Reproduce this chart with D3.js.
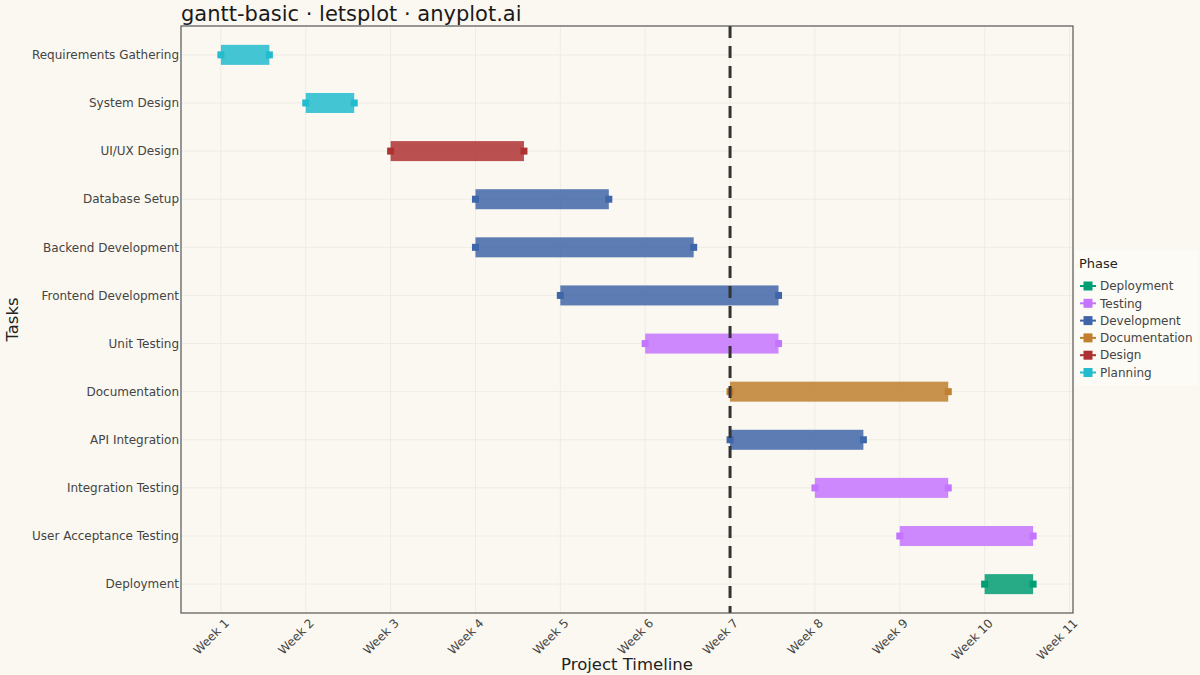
<!DOCTYPE html>
<html>
<head>
<meta charset="utf-8">
<script src="https://cdn.jsdelivr.net/npm/d3@7"></script>
<style>
  body { margin: 0; background: #FAF8F1; }
  text { font-family: "DejaVu Sans", sans-serif; }
</style>
</head>
<body>
<div id="chart"></div>
<script>
// Chart data
var tasks = ["Requirements Gathering", "System Design", "UI/UX Design", "Database Setup",
  "Backend Development", "Frontend Development", "Unit Testing", "Documentation",
  "API Integration", "Integration Testing", "User Acceptance Testing", "Deployment"];
var phases = ["Planning", "Planning", "Design", "Development", "Development", "Development",
  "Testing", "Documentation", "Development", "Testing", "Testing", "Deployment"];
// start / end in days from project start (week 1 = day 0)
var startDays = [0, 7, 14, 21, 21, 28, 35, 42, 42, 49, 56, 63];
var endDays = [4, 11, 25, 32, 39, 46, 46, 60, 53, 60, 67, 67];
var todayDay = 42;

var weekTicks = [0, 7, 14, 21, 28, 35, 42, 49, 56, 63, 70];
var weekLabels = ["Week 1", "Week 2", "Week 3", "Week 4", "Week 5", "Week 6",
  "Week 7", "Week 8", "Week 9", "Week 10", "Week 11"];

var legendPhases = ["Deployment", "Testing", "Development", "Documentation", "Design", "Planning"];
var phaseColors = ["#009E73", "#C474FF", "#3F66A8", "#C0802F", "#AE3232", "#22BCCE"];

// Layout
var svgWidth = 1200;
var svgHeight = 675;
var margin = { top: 26, right: 127, bottom: 62, left: 181 };
var width = svgWidth - margin.left - margin.right;
var height = svgHeight - margin.top - margin.bottom;

var svg = d3.select("#chart")
  .append("svg")
  .attr("width", svgWidth)
  .attr("height", svgHeight)
  .style("background", "#FAF8F1");

var chartGroup = svg.append("g")
  .attr("transform", `translate(${margin.left}, ${margin.top})`);

var color = d3.scaleOrdinal().domain(legendPhases).range(phaseColors);

// x: days, week 1 at day 0 ; panel spans a little past both end ticks
var xScale = d3.scaleLinear()
  .domain([-3.29, 70.29])
  .range([0, width]);

var yScale = d3.scalePoint()
  .domain(tasks)
  .range([0, height])
  .padding(0.6);

// Panel background + grid
chartGroup.append("rect")
  .attr("width", width)
  .attr("height", height)
  .attr("fill", "#FAF8F1");

chartGroup.selectAll(".vgrid")
  .data(weekTicks)
  .enter()
  .append("line")
  .attr("x1", d => xScale(d))
  .attr("x2", d => xScale(d))
  .attr("y1", 0)
  .attr("y2", height)
  .attr("stroke", "#EFECE4")
  .attr("stroke-width", 1);

chartGroup.selectAll(".hgrid")
  .data(tasks)
  .enter()
  .append("line")
  .attr("x1", 0)
  .attr("x2", width)
  .attr("y1", d => yScale(d))
  .attr("y2", d => yScale(d))
  .attr("stroke", "#EFECE4")
  .attr("stroke-width", 1);

// Bars
var rows = tasks.map(function(t, i) {
  return { task: t, phase: phases[i], start: startDays[i], end: endDays[i] };
});

chartGroup.selectAll(".bar")
  .data(rows)
  .enter()
  .append("rect")
  .attr("x", d => xScale(d.start))
  .attr("y", d => yScale(d.task) - 10)
  .attr("width", d => xScale(d.end) - xScale(d.start))
  .attr("height", 20)
  .attr("fill", d => color(d.phase))
  .attr("fill-opacity", 0.85);

// end points
var ends = [];
rows.forEach(function(d) {
  ends.push({ task: d.task, phase: d.phase, x: d.start });
  ends.push({ task: d.task, phase: d.phase, x: d.end });
});

chartGroup.selectAll(".endpt")
  .data(ends)
  .enter()
  .append("rect")
  .attr("x", d => xScale(d.x) - 3.5)
  .attr("y", d => yScale(d.task) - 3.5)
  .attr("width", 7)
  .attr("height", 7)
  .attr("fill", d => color(d.phase));

// Today line
chartGroup.append("line")
  .attr("x1", xScale(todayDay))
  .attr("x2", xScale(todayDay))
  .attr("y1", 0)
  .attr("y2", height)
  .attr("stroke", "#333333")
  .attr("stroke-width", 3)
  .attr("stroke-dasharray", "12,8");

// Panel border
chartGroup.append("rect")
  .attr("width", width)
  .attr("height", height)
  .attr("fill", "none")
  .attr("stroke", "#555555")
  .attr("stroke-width", 1.2);

// Y tick labels
chartGroup.selectAll(".ylab")
  .data(tasks)
  .enter()
  .append("text")
  .attr("x", -2)
  .attr("y", d => yScale(d))
  .attr("dy", "0.35em")
  .attr("text-anchor", "end")
  .style("font-size", "12px")
  .style("fill", "#444444")
  .text(d => d);

// X tick labels (rotated)
chartGroup.selectAll(".xlab")
  .data(weekTicks)
  .enter()
  .append("text")
  .attr("transform", d => `translate(${xScale(d) + 6}, ${height + 8}) rotate(-45)`)
  .attr("text-anchor", "end")
  .attr("dy", "0.35em")
  .style("font-size", "12px")
  .style("fill", "#444444")
  .text((d, i) => weekLabels[i]);

// Axis titles
svg.append("text")
  .attr("x", margin.left + width / 2)
  .attr("y", 670)
  .attr("text-anchor", "middle")
  .style("font-size", "16.5px")
  .style("fill", "#222222")
  .text("Project Timeline");

svg.append("text")
  .attr("transform", `translate(18, ${margin.top + height / 2}) rotate(-90)`)
  .attr("text-anchor", "middle")
  .style("font-size", "16.5px")
  .style("fill", "#222222")
  .text("Tasks");

// Title
svg.append("text")
  .attr("x", 181)
  .attr("y", 21)
  .style("font-size", "21px")
  .style("fill", "#1A1A1A")
  .text("gantt-basic · letsplot · anyplot.ai");

// Legend
var legend = svg.append("g")
  .attr("transform", "translate(1075, 250)");

legend.append("rect")
  .attr("width", 123)
  .attr("height", 135)
  .attr("fill", "#FDFBF5");

legend.append("text")
  .attr("x", 4)
  .attr("y", 18)
  .style("font-size", "13px")
  .style("fill", "#222222")
  .text("Phase");

var items = legend.selectAll(".item")
  .data(legendPhases)
  .enter()
  .append("g")
  .attr("transform", (d, i) => `translate(5, ${36 + i * 17.3})`);

items.append("line")
  .attr("x1", 0)
  .attr("x2", 16)
  .attr("y1", 0)
  .attr("y2", 0)
  .attr("stroke", d => color(d))
  .attr("stroke-width", 2);

items.append("rect")
  .attr("x", 3.5)
  .attr("y", -4.5)
  .attr("width", 9)
  .attr("height", 9)
  .attr("fill", d => color(d));

items.append("text")
  .attr("x", 20)
  .attr("y", 0)
  .attr("dy", "0.35em")
  .style("font-size", "12px")
  .style("fill", "#444444")
  .text(d => d);
</script>
</body>
</html>
